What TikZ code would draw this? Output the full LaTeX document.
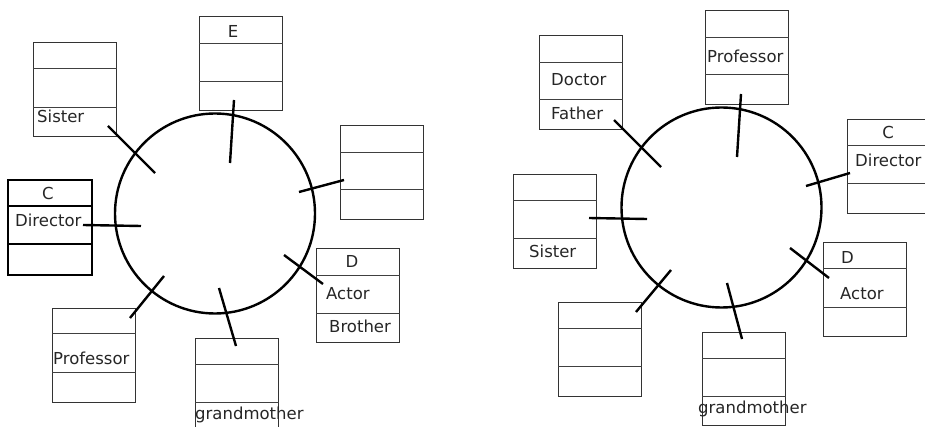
\documentclass[tikz,border=0pt]{standalone}
\usepackage{fontspec}
\setmainfont{DejaVu Sans}
\begin{document}
\begin{tikzpicture}[x=1pt,y=-1pt,
  umlbox/.style={draw=black!80,line width=0.9pt,rectangle,minimum width=83pt,minimum height=94pt,anchor=north west,inner sep=0pt},
  boldbox/.style={umlbox,draw=black,line width=1.8pt},
  divider/.style={draw=black!75,line width=0.9pt},
  ring/.style={draw=black,line width=2.4pt},
  tick/.style={draw=black,line width=2.4pt},
  lbl/.style={font=\fontsize{16.5}{20}\selectfont,text=black!85,inner sep=0pt,anchor=base west},
  clbl/.style={lbl,anchor=base}]
\useasboundingbox (0,0) rectangle (925,427);
\fill[white] (0,0) rectangle (925,427);

% ================= LEFT PANEL =================
\node[ring,circle,minimum size=200pt,inner sep=0pt] (L) at (215,213.5) {};

\node[umlbox] (Ls) at (33,42) {};
\draw[divider] (Ls.west |- 0,68) -- (Ls.east |- 0,68);
\draw[divider] (Ls.west |- 0,107) -- (Ls.east |- 0,107);
\node[lbl] (Lst) at (37,123) {Sister};

\node[umlbox] (Le) at (199,16) {};
\draw[divider] (Le.west |- 0,43) -- (Le.east |- 0,43);
\draw[divider] (Le.west |- 0,81) -- (Le.east |- 0,81);
\node[clbl] (Let) at (233,38) {E};

\node[umlbox] (Lr) at (340,125) {};
\draw[divider] (Lr.west |- 0,152) -- (Lr.east |- 0,152);
\draw[divider] (Lr.west |- 0,189) -- (Lr.east |- 0,189);

\node[boldbox,minimum width=84pt,minimum height=95pt] (Lc) at (7,179) {};
\draw[divider,draw=black,line width=1.5pt] (Lc.west |- 0,206) -- (Lc.east |- 0,206);
\draw[divider,draw=black,line width=1.5pt] (Lc.west |- 0,244) -- (Lc.east |- 0,244);
\node[clbl] (Lct) at (48,200) {C};
\node[lbl] (Lcd) at (15,227) {Director};

\node[umlbox] (Ld) at (316,248) {};
\draw[divider] (Ld.west |- 0,275) -- (Ld.east |- 0,275);
\draw[divider] (Ld.west |- 0,313) -- (Ld.east |- 0,313);
\node[clbl] (Ldt) at (352,268) {D};
\node[lbl] (Lda) at (326,299) {Actor};
\node[lbl] (Ldb) at (329,332) {Brother};

\node[umlbox] (Lp) at (52,308) {};
\draw[divider] (Lp.west |- 0,333) -- (Lp.east |- 0,333);
\draw[divider] (Lp.west |- 0,372) -- (Lp.east |- 0,372);
\node[lbl] (Lpt) at (53,364) {Professor};

\node[umlbox] (Lg) at (195,338) {};
\draw[divider] (Lg.west |- 0,364) -- (Lg.east |- 0,364);
\draw[divider] (Lg.west |- 0,402) -- (Lg.east |- 0,402);
\node[lbl] (Lgt) at (195,419) {grandmother};

% left ticks
\coordinate (Ls1) at (108,126); \coordinate (Ls2) at (155,173);
\coordinate (Le1) at (234,100); \coordinate (Le2) at (230,163);
\coordinate (Lr1) at (344,180); \coordinate (Lr2) at (299,192);
\coordinate (Lc1) at (83,225);  \coordinate (Lc2) at (141,226);
\coordinate (Ld1) at (284,255); \coordinate (Ld2) at (323,284);
\coordinate (Lp1) at (164,276); \coordinate (Lp2) at (130,318);
\coordinate (Lg1) at (219,288); \coordinate (Lg2) at (236,346);
\foreach \t in {Ls,Le,Lr,Lc,Ld,Lp,Lg} \draw[tick] (\t1) -- (\t2);

% ================= RIGHT PANEL =================
\node[ring,circle,minimum size=200pt,inner sep=0pt] (R) at (721.5,207.5) {};

\node[umlbox] (Rf) at (539,35) {};
\draw[divider] (Rf.west |- 0,62) -- (Rf.east |- 0,62);
\draw[divider] (Rf.west |- 0,99) -- (Rf.east |- 0,99);
\node[lbl] (Rfd) at (551,86) {Doctor};
\node[lbl] (Rff) at (551,120) {Father};

\node[umlbox] (Rp) at (705,10) {};
\draw[divider] (Rp.west |- 0,37) -- (Rp.east |- 0,37);
\draw[divider] (Rp.west |- 0,74) -- (Rp.east |- 0,74);
\node[lbl] (Rpt) at (707,63) {Professor};

\node[umlbox] (Rc) at (847,119) {};
\draw[divider] (Rc.west |- 0,145) -- (Rc.east |- 0,145);
\draw[divider] (Rc.west |- 0,183) -- (Rc.east |- 0,183);
\node[clbl] (Rct) at (888,139) {C};
\node[lbl] (Rcd) at (855,167) {Director};

\node[umlbox] (Rs) at (513,174) {};
\draw[divider] (Rs.west |- 0,200) -- (Rs.east |- 0,200);
\draw[divider] (Rs.west |- 0,238) -- (Rs.east |- 0,238);
\node[lbl] (Rst) at (529,258) {Sister};

\node[umlbox] (Rd) at (823,242) {};
\draw[divider] (Rd.west |- 0,268) -- (Rd.east |- 0,268);
\draw[divider] (Rd.west |- 0,307) -- (Rd.east |- 0,307);
\node[lbl] (Rdt) at (841,264) {D};
\node[lbl] (Rda) at (840,299) {Actor};

\node[umlbox] (Rb) at (558,302) {};
\draw[divider] (Rb.west |- 0,328) -- (Rb.east |- 0,328);
\draw[divider] (Rb.west |- 0,366) -- (Rb.east |- 0,366);

\node[umlbox,minimum height=93pt] (Rg) at (702,332) {};
\draw[divider] (Rg.west |- 0,358) -- (Rg.east |- 0,358);
\draw[divider] (Rg.west |- 0,396) -- (Rg.east |- 0,396);
\node[lbl] (Rgt) at (698,413) {grandmother};

% right ticks
\coordinate (Rf1) at (614,120); \coordinate (Rf2) at (661,167);
\coordinate (Rp1) at (741,94);  \coordinate (Rp2) at (737,157);
\coordinate (Rc1) at (850,173); \coordinate (Rc2) at (806,186);
\coordinate (Rs1) at (589,218); \coordinate (Rs2) at (647,219);
\coordinate (Rd1) at (790,248); \coordinate (Rd2) at (829,278);
\coordinate (Rb1) at (671,270); \coordinate (Rb2) at (636,312);
\coordinate (Rg1) at (727,283); \coordinate (Rg2) at (742,339);
\foreach \t in {Rf,Rp,Rc,Rs,Rd,Rb,Rg} \draw[tick] (\t1) -- (\t2);
\end{tikzpicture}
\end{document}
